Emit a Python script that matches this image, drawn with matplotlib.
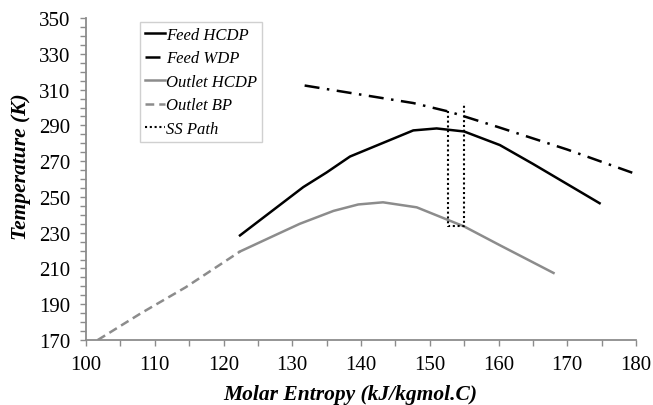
import matplotlib.pyplot as plt
import numpy as np

plt.rcParams['font.family'] = ['Liberation Serif', 'DejaVu Serif']

# Feed hydrocarbon dew point
feed_hcdp_s = [122.4, 131.6, 135.0, 138.4, 147.6, 151.0, 155.0, 160.2, 165.0, 174.7]
feed_hcdp_t = [228.5, 255.5, 263.7, 272.6, 287.2, 288.3, 286.6, 279.0, 268.5, 246.5]

# Feed water dew point
feed_wdp_s = [131.8, 140.0, 147.6, 152.9, 160.0, 170.0, 180.0]
feed_wdp_t = [312.3, 307.2, 302.5, 297.6, 289.0, 276.5, 262.8]

# Outlet hydrocarbon dew point
out_hcdp_s = [122.4, 128.0, 131.1, 136.0, 139.6, 143.2, 148.1, 155.0, 160.2, 168.0]
out_hcdp_t = [219.5, 229.5, 235.0, 242.2, 245.8, 247.0, 244.2, 233.5, 223.0, 207.5]

# Outlet bubble point
out_bp_s = [101.7, 108.0, 114.5, 122.4]
out_bp_t = [170.0, 185.0, 199.5, 219.5]

# Supersonic separator path
ss_s = [152.7, 152.7, 155.0, 155.0]
ss_t = [298.3, 234.0, 234.0, 302.5]

fig = plt.figure(figsize=(6.53, 4.06), dpi=100)
ax = fig.add_axes([0.1317, 0.160, 0.8423, 0.793])

ax.plot(feed_hcdp_s, feed_hcdp_t, color='black', lw=1.8, label='Feed HCDP')
ax.plot(feed_wdp_s, feed_wdp_t, color='black', lw=1.8,
        linestyle=(0, (6, 3, 1, 3)), label='Feed WDP')
ax.plot(out_hcdp_s, out_hcdp_t, color='#8c8c8c', lw=1.8, label='Outlet HCDP')
ax.plot(out_bp_s, out_bp_t, color='#8c8c8c', lw=1.8,
        linestyle=(0, (3.5, 2)), label='Outlet BP')
ax.plot(ss_s, ss_t, color='black', lw=1.5, linestyle=(0, (1, 1.3)), label='SS Path')

ax.set_xlim(100, 180)
ax.set_ylim(170, 350)
ax.set_xticks(np.arange(100, 181, 10))
ax.set_xticks(np.arange(100, 181, 5), minor=True)
ax.set_yticks(np.arange(170, 351, 20))
ax.set_yticks(np.arange(170, 351, 5), minor=True)

for side in ['top', 'right']:
    ax.spines[side].set_visible(False)
for side in ['left', 'bottom']:
    ax.spines[side].set_color('#8c8c8c')
    ax.spines[side].set_linewidth(1.3)

ax.tick_params(which='both', direction='out', color='#8c8c8c', width=1.0)
ax.tick_params(which='major', length=4.5, labelsize=15)
ax.tick_params(which='minor', length=4.5)
ax.tick_params(axis='y', which='major', pad=7)
ax.tick_params(axis='x', which='major', pad=6)

ax.set_xlabel('Molar Entropy (kJ/kgmol.C)', fontsize=15.5, fontweight='bold',
              fontstyle='italic')
ax.set_ylabel('Temperature (K)', fontsize=15.5, fontweight='bold',
              fontstyle='italic')
ax.xaxis.set_label_coords(0.48, -0.135)
ax.yaxis.set_label_coords(-0.1, 0.54)

leg = ax.legend(loc='upper left', bbox_to_anchor=(0.098, 0.988),
                prop={'style': 'italic', 'size': 12}, handlelength=1.2,
                handletextpad=0.05, borderpad=0.3, labelspacing=0.45,
                borderaxespad=0, fancybox=False, framealpha=1)
leg.get_frame().set_edgecolor('#d0d0d0')
leg.get_frame().set_linewidth(1.0)

fig.savefig('out.png', dpi=100)
